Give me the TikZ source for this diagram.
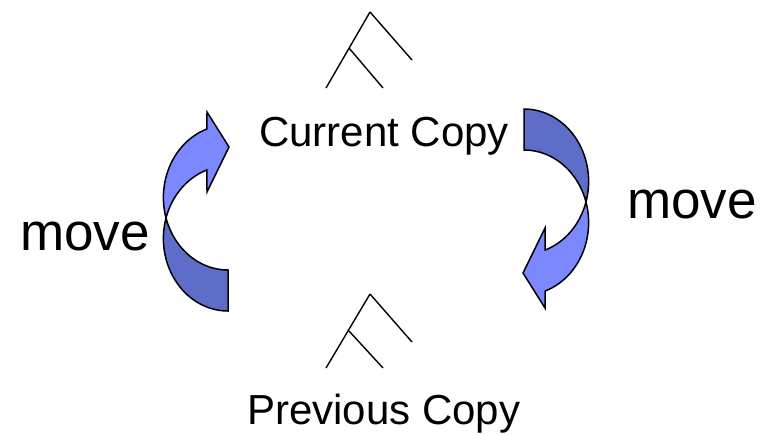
\documentclass[tikz,border=0pt]{standalone}
\usepackage{fontspec}
\setmainfont{Liberation Sans}
\definecolor{arlight}{RGB}{124,136,255}
\definecolor{ardark}{RGB}{94,110,200}
\tikzset{
  bandline/.style={draw=black, line width=1.5pt, line join=miter},
  branch/.style={draw=black, line width=1.4pt},
  copylabel/.style={anchor=base west, inner sep=0pt, font=\fontsize{42}{48}\selectfont},
  movelabel/.style={anchor=base west, inner sep=0pt, font=\fontsize{53}{60}\selectfont},
  curvarrow/.pic={
    \path[bandline, fill=ardark]
      plot[domain=196.43:90, samples=60] ({64.6*cos(\x)},{72.5*sin(\x)})
      -- plot[domain=90:163.57, samples=60] ({64.6*cos(\x)},{-41+72.5*sin(\x)})
      -- cycle;
    \path[bandline, fill=arlight]
      plot[domain=163.57:251, samples=60] ({64.6*cos(\x)},{-41+72.5*sin(\x)})
      -- (-21,-126.5) -- (1,-91.5) -- (-21,-46.5)
      -- plot[domain=251:196.43, samples=60] ({64.6*cos(\x)},{72.5*sin(\x)})
      -- cycle;
  }
}
\begin{document}
\begin{tikzpicture}[x=1pt,y=-1pt]
\useasboundingbox (0,0) rectangle (762,434);

% top tree
\coordinate (ta) at (370,12);
\coordinate (ti) at (349,48);
\coordinate (tl) at (326,88);
\coordinate (tm) at (383,88);
\coordinate (tr) at (412,60);
\draw[branch] (ta) -- (tl);
\draw[branch] (ti) -- (tm);
\draw[branch] (ta) -- (tr);

% bottom tree
\coordinate (ba) at (370,294);
\coordinate (bi) at (349,331);
\coordinate (bl) at (326,368);
\coordinate (bm) at (383,368);
\coordinate (br) at (412,342);
\draw[branch] (ba) -- (bl);
\draw[branch] (bi) -- (bm);
\draw[branch] (ba) -- (br);

% curved arrows
\pic at (228,238.5) {curvarrow};
\pic[rotate=180] at (524,181.5) {curvarrow};

% labels
\node[copylabel] (cur) at (259,146) {Current Copy};
\node[copylabel] (prev) at (247,424) {Previous Copy};
\node[movelabel] (mvl) at (20,250) {move};
\node[movelabel] (mvr) at (627,218) {move};
\end{tikzpicture}
\end{document}
